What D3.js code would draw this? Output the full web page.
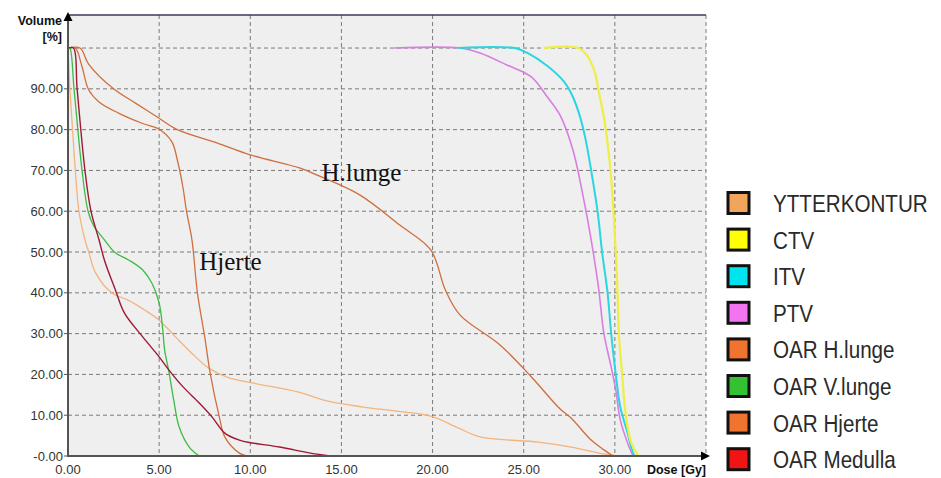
<!DOCTYPE html>
<html>
<head>
<meta charset="utf-8">
<script src="https://cdn.jsdelivr.net/npm/d3@7"></script>
<style>
  body { margin: 0; background: #fff; }
  svg { display: block; }
  .tick_lbl { font-family: 'Liberation Sans', Arial, sans-serif; font-size: 13px; fill: #333; }
  .axis_ttl { font-family: 'Liberation Sans', Arial, sans-serif; font-size: 12.5px; font-weight: bold; fill: #111; }
  .note { font-family: 'Liberation Serif', 'Times New Roman', serif; font-size: 25px; fill: #111; }
  .leg_lbl { font-family: 'Liberation Sans', Arial, sans-serif; font-size: 24px; fill: #2a2a2a; }
</style>
</head>
<body>
<svg id="graph" width="941" height="478"></svg>
<script>
/*******************************************************************************************/
// DVH data, [dose Gy, volume %]

var xTicks = [0, 5, 10, 15, 20, 25, 30];
var yTicks = [0, 10, 20, 30, 40, 50, 60, 70, 80, 90];

var ytterkontur = [[0,100],[0.05,95],[0.1,90],[0.25,80],[0.4,70],[0.6,60],[0.93,53],[1.14,50],[1.5,45],[2.4,40],
  [3.3,38.2],[4.2,35.8],[5.0,33.3],[5.9,29.2],[7.0,24.3],[7.7,21.6],[8.8,19.2],[10.1,17.9],[12.6,15.7],[14.2,13.5],
  [16.2,12],[18,11],[19.9,9.8],[21.4,6.9],[22.6,4.7],[25.8,3.4],[27.6,2.2],[29.4,0.5],[30.2,0]];
var ctv = [[26.1,100],[28.0,100],[28.5,98],[28.9,94],[29.1,89.7],[29.4,83],[29.6,76.7],[29.8,68],[29.95,58],[30.05,50],
  [30.15,40],[30.22,30],[30.4,20],[30.6,10],[30.9,3.2],[31.3,0]];
var itv = [[21.4,100],[24.5,100],[25.2,98.8],[26.3,95.6],[27.2,91.8],[27.7,88],[28.1,83],[28.4,77.5],[28.7,70],[29.05,60],
  [29.3,50],[29.6,40],[29.8,30],[30.05,20],[30.3,12],[30.7,5.6],[31,0.7],[31.1,0]];
var ptv = [[17.9,100],[21.5,100],[22.6,98.8],[24.1,95.8],[25.4,93],[26.3,88],[27,83.5],[27.7,75],[28.3,62.7],[28.7,53],
  [29.1,41.4],[29.4,30],[29.8,21.8],[30.05,16.2],[30.3,8.8],[30.7,3.2],[31,0]];
var hLunge = [[0,100],[0.66,100],[1.14,96],[2.5,90],[3.7,86.5],[5.0,82.8],[6.0,80],[8.2,76.7],[10,73.8],[12.7,70.6],
  [13.8,68.6],[16,64],[18.2,56.6],[19.9,50.5],[20.7,40.7],[21.5,34.6],[23.7,27.2],[25.4,19.5],[27,11.5],[27.6,9.3],
  [28.7,3.9],[29.4,1.5],[29.9,0]];
var vLunge = [[0,100],[0.1,100],[0.33,90],[0.77,70],[1.1,60],[1.4,56.5],[2.0,53],[2.6,49.8],[3.35,48],[4.1,45.6],
  [4.6,42.4],[5.0,37.5],[5.2,30.9],[5.3,26],[5.55,20.3],[5.8,13.7],[6.1,7.1],[6.65,2.2],[7.2,0]];
var hjerte = [[0,100],[0.4,100],[0.77,95.4],[1.14,89.7],[1.7,86.8],[2.8,84],[4.1,81.5],[5.0,80.1],[5.7,77],[6.0,72.5],
  [6.3,66],[6.5,60],[6.8,53],[7.1,40],[7.5,29.2],[7.8,20.3],[8.3,9.6],[8.6,4.7],[9.4,0.7],[9.8,0]];
var medulla = [[0,100],[0.3,100],[0.5,90],[0.93,70],[1.26,60],[1.7,53],[2.0,48],[2.6,40.7],[3.1,35],[4.1,29.2],
  [5.0,24.3],[5.55,21],[6.3,17],[7.2,13],[7.9,9.6],[8.6,5.6],[9.4,3.9],[10.1,3.2],[11.6,2.2],[13.3,0.7],[14.4,0]];

var legendNames = ['YTTERKONTUR', 'CTV', 'ITV', 'PTV', 'OAR H.lunge', 'OAR V.lunge', 'OAR Hjerte', 'OAR Medulla'];
var legendColors = ['#f0a45c', '#ffff00', '#00e4f0', '#f274f0', '#f07430', '#34c234', '#f07430', '#f01414'];

/*************************************************/

var svg = d3.select('#graph');
var pLeft = 68, pRight = 706, pTop = 15, pBottom = 456;

var xScale = d3.scaleLinear().domain([0, 35]).range([pLeft, pRight]);
var yScale = d3.scaleLinear().domain([0, 108.1]).range([pBottom, pTop]);

svg.append('rect').attr('x', pLeft).attr('y', pTop).attr('width', pRight - pLeft).attr('height', pBottom - pTop).style('fill', '#efefef');

// grid
svg.append('g').selectAll('line').data(yTicks.slice(1).concat([100])).enter().append('line')
   .attr('x1', pLeft).attr('x2', pRight).attr('y1', d => yScale(d)).attr('y2', d => yScale(d))
   .style('stroke', '#7a7a7a').style('stroke-dasharray', '4,3');
svg.append('g').selectAll('line').data(xTicks.slice(1).concat([35])).enter().append('line')
   .attr('y1', pTop).attr('y2', pBottom).attr('x1', d => xScale(d)).attr('x2', d => xScale(d))
   .style('stroke', '#7a7a7a').style('stroke-dasharray', '4,3');

// top border
svg.append('line').attr('x1', pLeft).attr('x2', pRight).attr('y1', pTop).attr('y2', pTop).style('stroke', '#3a3a5a').style('stroke-width', 1.5);

// curves
var lineGen = d3.line().x(d => xScale(d[0])).y(d => yScale(d[1])).curve(d3.curveCatmullRom.alpha(0.5));
var curves = [
  { data: ytterkontur, color: '#f3b47e', w: 1.3 },
  { data: hLunge, color: '#cf6e3c', w: 1.3 },
  { data: hjerte, color: '#d0703e', w: 1.3 },
  { data: vLunge, color: '#3cbc44', w: 1.3 },
  { data: medulla, color: '#9e1a34', w: 1.4 },
  { data: ptv, color: '#d97ee0', w: 1.6 },
  { data: itv, color: '#2ad6e0', w: 2 },
  { data: ctv, color: '#eeee44', w: 2.2 }
];
svg.append('g').selectAll('path').data(curves).enter().append('path')
   .attr('d', d => lineGen(d.data))
   .style('fill', 'none').style('stroke', d => d.color).style('stroke-width', d => d.w);

// axes
svg.append('line').attr('x1', pLeft).attr('x2', pLeft).attr('y1', pTop + 4).attr('y2', pBottom + 1).style('stroke', '#555').style('stroke-width', 2);
svg.append('line').attr('x1', pLeft - 1).attr('x2', pRight).attr('y1', pBottom).attr('y2', pBottom).style('stroke', '#555').style('stroke-width', 2);
svg.append('path').attr('d', 'M' + pLeft + ',' + (pTop - 3) + 'l-4.5,9h9z').style('fill', '#000');
svg.append('path').attr('d', 'M' + (pRight + 4) + ',' + pBottom + 'l-9,-4.5v9z').style('fill', '#000');

// ticks and labels
var yAx = svg.append('g');
yAx.selectAll('line').data(yTicks).enter().append('line')
   .attr('x1', pLeft - 4).attr('x2', pLeft).attr('y1', d => yScale(d)).attr('y2', d => yScale(d)).style('stroke', '#555');
yAx.selectAll('text').data(yTicks).enter().append('text').attr('class', 'tick_lbl')
   .attr('x', pLeft - 5).attr('y', d => yScale(d) + 4.5).style('text-anchor', 'end')
   .text(d => (d === 0 ? '-' : '') + d3.format('.2f')(d));

svg.append('g').selectAll('text').data(xTicks).enter().append('text').attr('class', 'tick_lbl')
   .attr('x', d => xScale(d)).attr('y', 474).style('text-anchor', 'middle')
   .text(d => d3.format('.2f')(d));

svg.append('text').attr('class', 'axis_ttl').attr('x', 62).attr('y', 25).style('text-anchor', 'end').text('Volume');
svg.append('text').attr('class', 'axis_ttl').attr('x', 62).attr('y', 41).style('text-anchor', 'end').text('[%]');
svg.append('text').attr('class', 'axis_ttl').attr('x', 706).attr('y', 474).style('text-anchor', 'end').text('Dose [Gy]');

// annotations
svg.append('text').attr('class', 'note').attr('x', xScale(13.9)).attr('y', 181).text('H.lunge');
svg.append('text').attr('class', 'note').attr('x', xScale(7.2)).attr('y', 270).text('Hjerte');

// legend
var leg = svg.append('g').selectAll('g').data(legendNames).enter().append('g')
   .attr('transform', (d, i) => 'translate(728,' + (203 + i * 36.6) + ')');
leg.append('rect').attr('x', 0).attr('y', -10.5).attr('width', 21).attr('height', 21)
   .style('fill', (d, i) => legendColors[i]).style('stroke', '#111').style('stroke-width', 3);
leg.append('text').attr('class', 'leg_lbl').attr('transform', 'translate(45,9) scale(0.86,1)').text(d => d);
</script>
</body>
</html>
